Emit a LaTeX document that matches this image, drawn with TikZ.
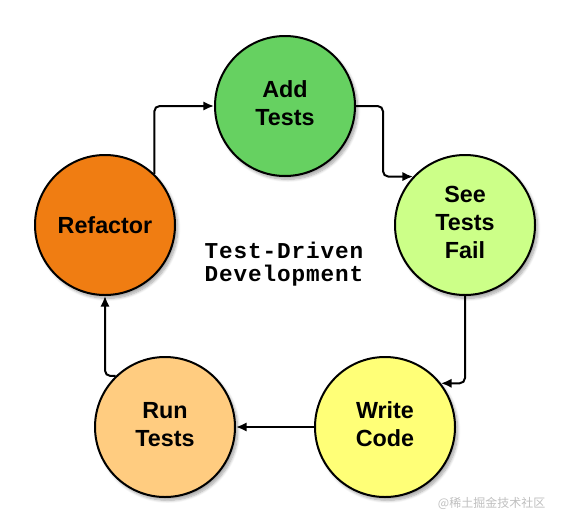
\documentclass[tikz,border=0pt]{standalone}
\usepackage{fontspec}
\setmainfont{Liberation Sans}
\newfontfamily\tddmono[LetterSpace=4]{Liberation Mono}
\newfontfamily\cjk{Noto Sans CJK SC}
\usetikzlibrary{arrows.meta,shadows.blur}
\definecolor{addgreen}{RGB}{102,209,97}
\definecolor{seegreen}{RGB}{204,255,136}
\definecolor{writeyellow}{RGB}{255,255,119}
\definecolor{runorange}{RGB}{255,204,128}
\definecolor{reforange}{RGB}{240,125,18}
\newcommand{\twolines}[2]{\raisebox{2.2pt}{\begin{tabular}{@{}c@{}}#1\\#2\end{tabular}}}
\tikzset{
  phase/.style={circle, draw=black, line width=1.5pt, minimum size=105pt, inner sep=0pt,
    align=center, font=\fontsize{17.5}{21}\selectfont\bfseries,
    blur shadow={shadow xshift=2pt, shadow yshift=-2.5pt, shadow blur steps=8, shadow opacity=35}},
  conn/.style={draw=black, line width=1.5pt, rounded corners=4pt,
    -{Latex[length=8pt,width=7pt]}},
}
\begin{document}
\begin{tikzpicture}[x=0.75pt,y=-0.75pt]
\useasboundingbox (0,0) rectangle (563,525);
\node[phase, fill=addgreen] (add) at (285,106) {\twolines{Add}{Tests}};
\node[phase, fill=seegreen] (see) at (465,225) {\raisebox{1.5pt}{\begin{tabular}{@{}c@{}}See\\Tests\\Fail\end{tabular}}};
\node[phase, fill=writeyellow] (write) at (385,427) {\twolines{Write}{Code}};
\node[phase, fill=runorange] (run) at (165,427) {\twolines{Run}{Tests}};
\node[phase, fill=reforange] (ref) at (105,225) {Refactor};
\node[align=center, font=\tddmono\fontsize{17}{17.25}\selectfont\bfseries] (title) at (284,264) {Test-Driven\\Development};
\node[font=\cjk\fontsize{9}{11}\selectfont, text=black!25, anchor=east] (wm) at (550,503) {@稀土掘金技术社区};
\coordinate (c1) at (383,106);
\path[conn] (ref.46) |- (add.west);
\path[conn] (add.east) -- (c1) |- (see.137);
\path[conn] (see.south) |- (write.38);
\path[conn] (write.west) -- (run.east);
\path[conn] (run.134) -| (ref.south);
\end{tikzpicture}
\end{document}
